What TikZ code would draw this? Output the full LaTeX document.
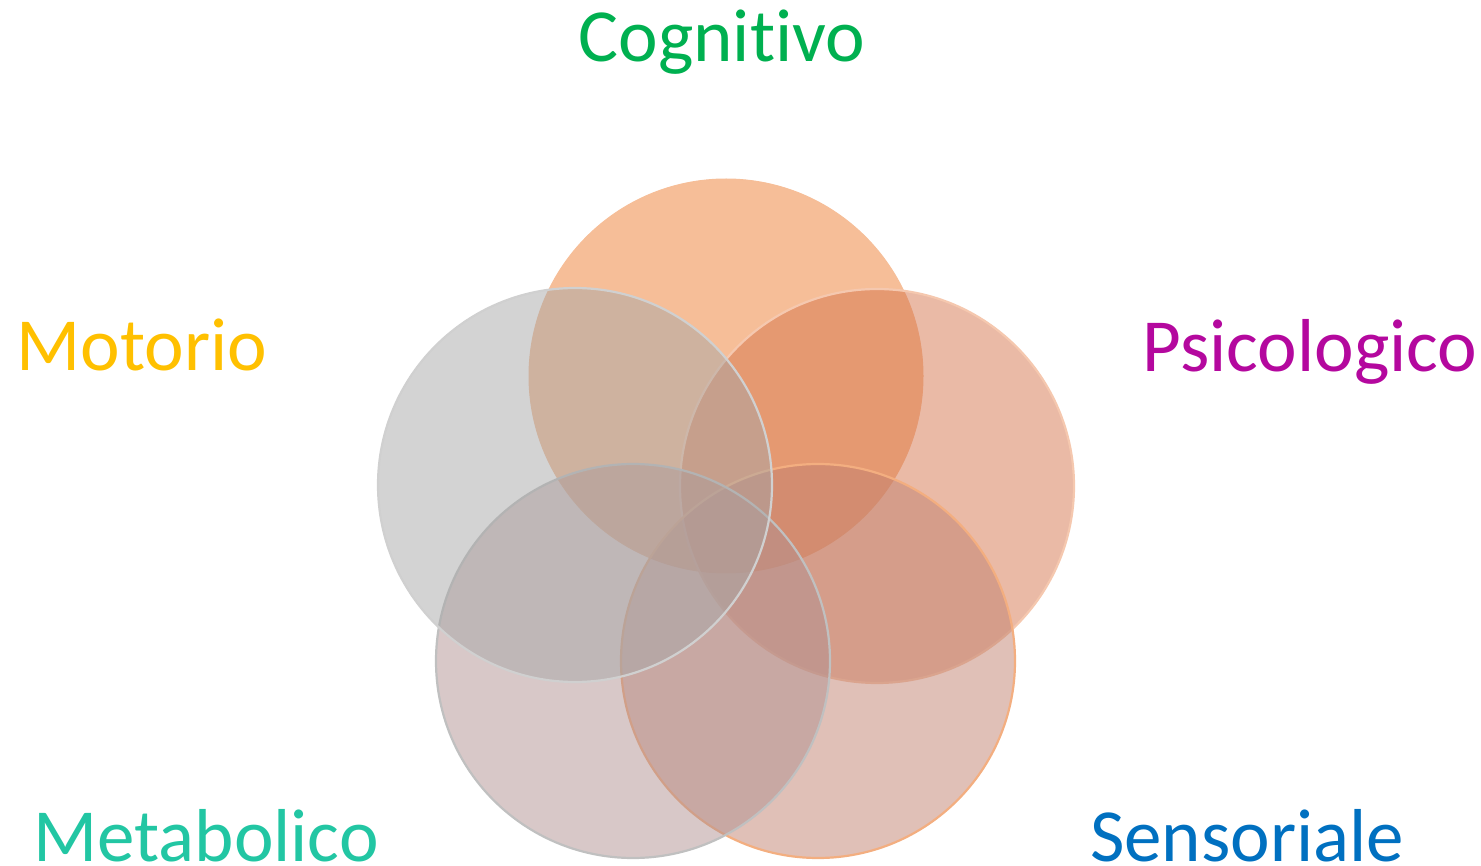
\documentclass[tikz,border=0pt]{standalone}
\usepackage{fontspec}
\setmainfont[Ligatures=NoCommon]{Carlito}
\definecolor{cA}{RGB}{237,125,49}
\definecolor{cB}{RGB}{213,117,77}
\definecolor{cC}{RGB}{193,129,111}
\definecolor{cD}{RGB}{177,145,145}
\definecolor{cE}{RGB}{167,167,167}
\definecolor{bA}{RGB}{246,190,152}
\definecolor{bB}{RGB}{245,200,175}
\definecolor{bC}{RGB}{243,174,128}
\definecolor{bD}{RGB}{192,192,192}
\definecolor{bE}{RGB}{208,208,208}
\definecolor{tCog}{RGB}{0,176,80}
\definecolor{tMot}{RGB}{255,192,0}
\definecolor{tPsi}{RGB}{180,8,158}
\definecolor{tMet}{RGB}{34,198,163}
\definecolor{tSen}{RGB}{0,112,192}
\begin{document}
\begin{tikzpicture}[x=1pt,y=-1pt,
  circ/.style={circle, minimum size=394pt, inner sep=0pt, fill opacity=0.5, draw opacity=1, line width=2.2pt},
  lbl/.style={anchor=base, inner sep=0pt, font=\fontsize{75}{90}\selectfont}]
\useasboundingbox (0,0) rectangle (1481,866);
\node[circ, fill=cA, draw=bA, line width=1pt] (cog) at (726,376) {};
\node[circ, fill=cB, draw=bB] (psi) at (877,486) {};
\node[circ, fill=cC, draw=bC] (sen) at (818,661) {};
\node[circ, fill=cD, draw=bD] (met) at (633,661) {};
\node[circ, fill=cE, draw=bE] (mot) at (575,485) {};
\node[lbl, text=tCog] (lcog) at (722,62) {Cognitivo};
\node[lbl, text=tMot] (lmot) at (142,371) {Motorio};
\node[lbl, text=tPsi] (lpsi) at (1310,372) {Psicologico};
\node[lbl, text=tMet] (lmet) at (206,861) {Metabolico};
\node[lbl, text=tSen] (lsen) at (1247,861) {Sensoriale};
\end{tikzpicture}
\end{document}
